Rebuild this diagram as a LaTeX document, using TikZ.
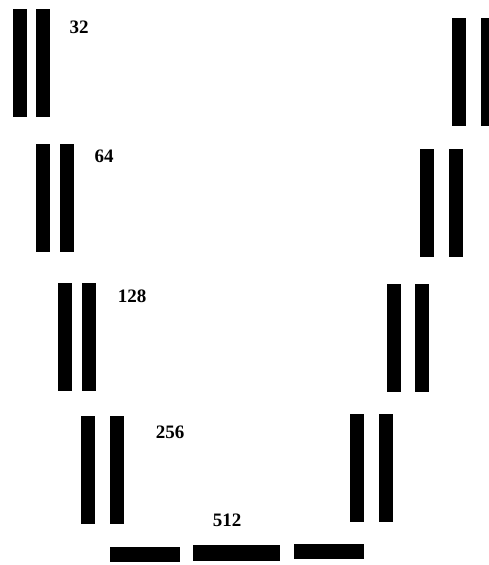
\documentclass[tikz,border=0pt]{standalone}
\usepackage{fontspec}
\setmainfont{Liberation Serif}
\begin{document}
\begin{tikzpicture}[x=1pt, y=-1pt, every node/.style={inner sep=0pt, outer sep=0pt},
    bar/.style={fill=black, minimum width=14pt, minimum height=108pt},
    hbar/.style={fill=black, minimum height=15.5pt},
    size/.style={font=\bfseries\fontsize{19}{19}\selectfont}]
				\useasboundingbox (0,0) rectangle (488,565);
				
				% 左侧 (编码器)
				\node[bar] (l1a) at (19.7,63.3) {};
				\node[bar] (l1b) at (42.5,63.3) {};
				\node[size] (s32) at (79,27) {32};
				
				\node[bar] (l2a) at (42.5,198.3) {};
				\node[bar] (l2b) at (66.7,198.3) {};
				\node[size] (s64) at (104,156) {64};
				
				\node[bar] (l3a) at (65.3,336.7) {};
				\node[bar] (l3b) at (89.3,336.7) {};
				\node[size] (s128) at (132,296) {128};
				
				\node[bar] (l4a) at (88.3,470) {};
				\node[bar] (l4b) at (116.7,470) {};
				\node[size] (s256) at (170,432) {256};
				
				% 底部
				\node[hbar, minimum width=70pt] (b1) at (145,554.5) {};
				\node[hbar, minimum width=86.7pt] (b2) at (236.7,553) {};
				\node[hbar, minimum width=70pt] (b3) at (329,551.7) {};
				\node[size] (s512) at (227,520) {512};
				
				% 右侧 (解码器)
				\node[bar] (r4a) at (357,467.5) {};
				\node[bar] (r4b) at (385.8,467.5) {};
				
				\node[bar] (r3a) at (393.7,337.8) {};
				\node[bar] (r3b) at (422,337.8) {};
				
				\node[bar] (r2a) at (426.7,202.8) {};
				\node[bar] (r2b) at (455.7,202.8) {};
				
				\node[bar] (r1a) at (458.7,72) {};
				\node[bar] (r1b) at (487.7,72) {};
\end{tikzpicture}
\end{document}
